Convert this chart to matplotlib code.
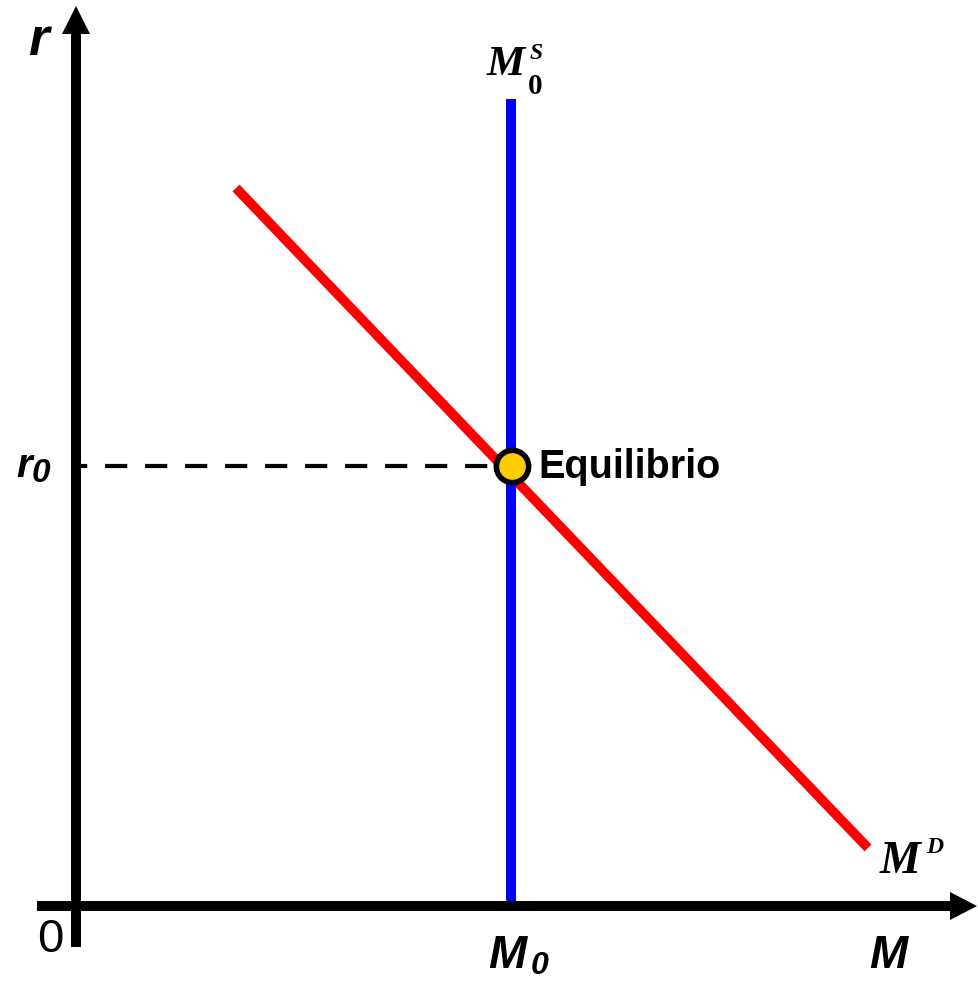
import matplotlib.pyplot as plt
from matplotlib.patches import Polygon

# schematic money-market diagram, units are arbitrary (origin at the axes corner)
supply_x = [435, 435]
supply_y = [0, 807]
demand_x = [160, 792]
demand_y = [718, 58]
eq_x, eq_y = 436, 440
ref_x = [0, 436]
ref_y = [440, 440]

sans = "Liberation Sans"
serif = "Liberation Serif"

fig = plt.figure(figsize=(9.79, 9.87), dpi=100)
ax = fig.add_axes([0, 0, 1, 1])
ax.set_xlim(-76, 903)
ax.set_ylim(-80, 907)
ax.set_axis_off()

# axes with arrow heads
ax.plot([0, 0], [-41, 872], color="black", lw=7.2, solid_capstyle="butt", zorder=5)
ax.plot([-39, 874], [0, 0], color="black", lw=7.2, solid_capstyle="butt", zorder=5)
ax.add_patch(Polygon([[-14, 872], [14, 872], [0, 900]], closed=True,
                     color="black", lw=0, zorder=5))
ax.add_patch(Polygon([[874, -14], [874, 14], [901, 0]], closed=True,
                     color="black", lw=0, zorder=5))

# curves
ax.plot(supply_x, supply_y, color="#0000FF", lw=7.2, solid_capstyle="butt", zorder=3)
ax.plot(demand_x, demand_y, color="#FF0000", lw=7.0, solid_capstyle="butt", zorder=2)
ax.plot(ref_x, ref_y, color="black", lw=3, linestyle=(2.6, (5.3, 4.3)), zorder=1)
ax.scatter([eq_x], [eq_y], s=540, color="#FFCC00", edgecolor="black",
           linewidth=4, zorder=6)

# labels
ax.text(-38, 866, "r", fontsize=38, fontweight="bold", style="italic",
        family=sans, ha="center", va="center")
ax.text(-52, 441, "r", fontsize=29, fontweight="bold", style="italic",
        family=sans, ha="center", va="center")
ax.text(-35, 433, "0", fontsize=24, fontweight="bold", style="italic",
        family=sans, ha="center", va="center")
ax.text(-26, -33, "0", fontsize=34, family=sans, ha="center", va="center")
ax.text(462, 440, "Equilibrio", fontsize=28.5, fontweight="bold",
        family=sans, ha="left", va="center")

ax.text(431, -49, "M", fontsize=33, fontweight="bold", style="italic",
        family=sans, ha="center", va="center")
ax.text(464, -59, "0", fontsize=23, fontweight="bold", style="italic",
        family=sans, ha="center", va="center")
ax.text(812, -49, "M", fontsize=33, fontweight="bold", style="italic",
        family=sans, ha="center", va="center")

ax.text(430, 842, "M", fontsize=31, fontweight="bold", style="italic",
        family=serif, ha="center", va="center")
ax.text(459, 820, "0", fontsize=21, fontweight="bold",
        family=serif, ha="center", va="center")
ax.text(460, 853, "S", fontsize=17, fontweight="bold", style="italic",
        family=serif, ha="center", va="center")

ax.text(824, 45, "M", fontsize=33, fontweight="bold", style="italic",
        family=serif, ha="center", va="center")
ax.text(859, 59, "D", fontsize=17, fontweight="bold", style="italic",
        family=serif, ha="center", va="center")

fig.savefig("out.png", dpi=100)
